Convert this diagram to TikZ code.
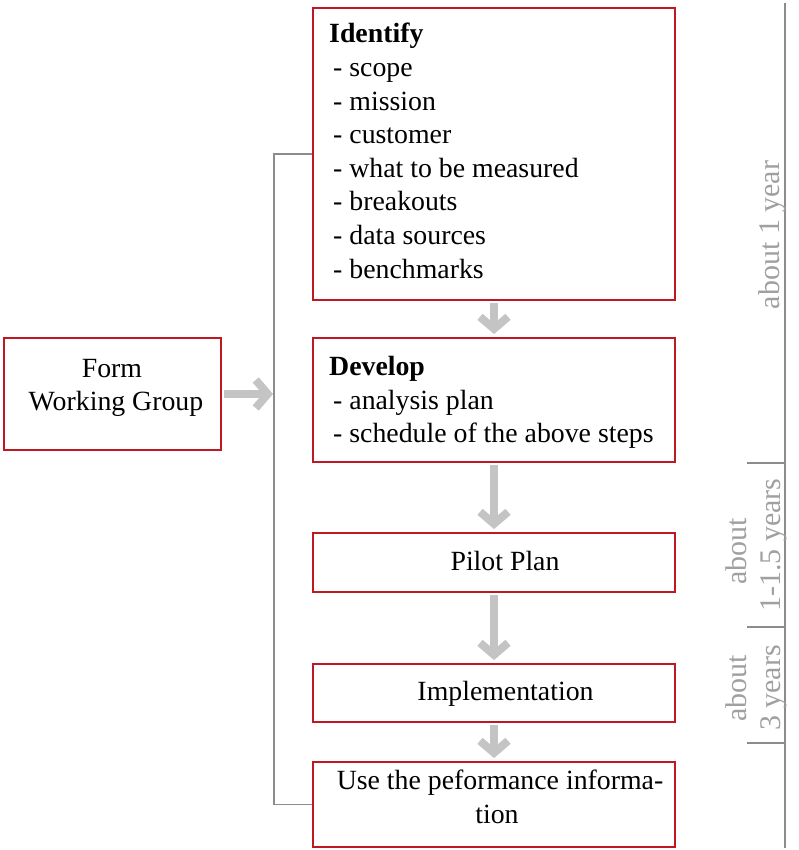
\documentclass[tikz,border=0pt]{standalone}
\usepackage{fontspec}
\setmainfont{Liberation Serif}
\usetikzlibrary{arrows.meta}

\definecolor{boxred}{RGB}{190,25,35}
\definecolor{flowgray}{RGB}{196,196,196}
\definecolor{linegray}{RGB}{140,140,140}
\definecolor{notegray}{RGB}{160,160,160}

\begin{document}
\begin{tikzpicture}[x=1pt,y=-1pt,
  frame/.style={draw=boxred, line width=1.8pt, fill=white, rectangle, inner sep=0pt},
  txt/.style={inner sep=0pt, anchor=base west, font=\fontsize{27.8}{33}\selectfont},
  ctxt/.style={inner sep=0pt, anchor=base, font=\fontsize{27.8}{33}\selectfont},
  note/.style={inner sep=0pt, anchor=base, rotate=90, text=notegray, font=\fontsize{30}{34}\selectfont},
  flow/.style={draw=flowgray, line width=8pt, -{Straight Barb[length=12pt,width=28pt]}},
  bracket/.style={draw=linegray, line width=1.6pt},
  axis/.style={draw=linegray, line width=1.4pt}]
\useasboundingbox (0,0) rectangle (798,850);

% boxes
\node[frame, minimum width=362pt, minimum height=292pt] (identify) at (494,154) {};
\node[frame, minimum width=362pt, minimum height=124pt] (develop) at (494,400) {};
\node[frame, minimum width=362pt, minimum height=59pt] (pilot) at (494,562.5) {};
\node[frame, minimum width=362pt, minimum height=58pt] (impl) at (494,693) {};
\node[frame, minimum width=362pt, minimum height=85pt] (use) at (494,804.5) {};
\node[frame, minimum width=217pt, minimum height=112pt] (form) at (112.5,394) {};

% box texts
\node[txt] (idT) at (329,43) {\bfseries Identify};
\node[txt] (id1) at (333,77) {- scope};
\node[txt] (id2) at (333,110.5) {- mission};
\node[txt] (id3) at (333,144) {- customer};
\node[txt] (id4) at (333,177.5) {- what to be measured};
\node[txt] (id5) at (333,211) {- breakouts};
\node[txt] (id6) at (333,244.5) {- data sources};
\node[txt] (id7) at (333,278) {- benchmarks};

\node[txt] (devT) at (329,375) {\bfseries Develop};
\node[txt] (dev1) at (333,409) {- analysis plan};
\node[txt] (dev2) at (333,442) {- schedule of the above steps};

\node[ctxt] (pilotT) at (505,570) {Pilot Plan};
\node[ctxt] (implT) at (505.5,700) {Implementation};
\node[ctxt] (useT1) at (500,789) {Use the peformance informa-};
\node[ctxt] (useT2) at (497,823) {tion};

\node[ctxt] (formT1) at (112,377) {Form};
\node[ctxt] (formT2) at (116,410) {Working Group};

% connectors
\coordinate (join) at (274,394);
\draw[bracket] (identify.west) -- (identify.west -| join) |- (use.west);
\draw[flow, shorten <=2pt, shorten >=1pt] (form.east) -- (join);
\draw[flow, shorten <=2pt, shorten >=3pt] (identify.south) -- (develop.north);
\draw[flow, shorten <=2pt, shorten >=3pt] (develop.south) -- (pilot.north);
\draw[flow, shorten <=2pt, shorten >=3pt] (pilot.south) -- (impl.north);
\draw[flow, shorten <=2pt, shorten >=3pt] (impl.south) -- (use.north);

% time axis
\coordinate (axTop) at (785,3);
\coordinate (axBot) at (785,848);
\draw[axis] (axTop) -- (axBot);
\coordinate (t1) at (785,463);
\coordinate (t2) at (785,627);
\coordinate (t3) at (785,743);
\coordinate (t1s) at (747,463);
\coordinate (t2s) at (747,627);
\coordinate (t3s) at (747,743);
\draw[axis] (t1s) -- (t1);
\draw[axis] (t2s) -- (t2);
\draw[axis] (t3s) -- (t3);

\node[note] (n1) at (779,235) {about 1 year};
\node[note] (n2a) at (746,551) {about};
\node[note] (n2b) at (780,545) {1-1.5 years};
\node[note] (n3a) at (746,688) {about};
\node[note] (n3b) at (780,688) {3 years};
\end{tikzpicture}
\end{document}
